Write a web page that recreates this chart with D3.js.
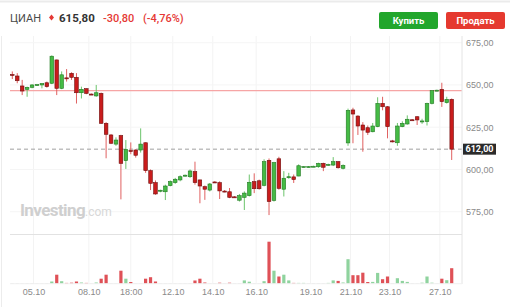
<!DOCTYPE html>
<html>
<head>
<meta charset="utf-8">
<script src="https://cdn.jsdelivr.net/npm/d3@7/dist/d3.min.js"></script>
<style>
  body { margin: 0; background: #fff; }
  svg { display: block; font-family: Roboto, "Liberation Sans", Arial, sans-serif; }
</style>
</head>
<body>
<div class="canvas"></div>
<script>
const w = 510;
const h = 307;

// candle data (ЦИАН, 4h-ish candles)
const opens = [656.2,655.3,649.4,647.4,648.6,650,650,651.3,651,664.8,648,654.2,656.9,654.5,645.4,647.8,644.6,643.5,645,627.3,
  620.4,615,620,605.2,611.2,611.5,611.5,615.8,599.3,592.2,587.3,586.8,590.4,592.2,593.8,596.2,595.7,598.7,593.8,589.8,
  587.8,592.6,592.2,587.2,586.8,583.8,581.8,583.5,584.5,592.8,593.3,590.6,605.4,581.7,606.3,588.3,595.3,595.6,596.1,601.5,
  601.5,601.7,601.6,603.6,602.6,602.6,604.6,600.7,615.7,635.2,631.6,626.3,624.7,622.3,625.3,639.1,637.1,616.9,615.8,625.3,
  626.9,629.4,631.2,628.4,628.3,639.1,646.7,647.4,639.5,641.5];
const highs = [658,657,653,649,650.5,650.6,651,652,667.5,665,658,659.4,657.5,657,649,648,645,650,645.5,628,
  621,619,620.5,617.4,616,612,624.3,616,600,593.5,588,591,593.5,595,596.5,597,600,604.6,594,590.5,
  592,593,593,587.8,589,584.2,585.5,587,597,597.7,594,606,606.5,604.5,607.5,599,598,597,603,602,
  602,602.2,604,604,603.4,607.3,605,603,636,636.5,632,628,626,627.5,642.7,643,637.5,617.5,627.5,628.5,
  632,629.8,631.5,630,639.5,647,647.2,651.3,643,642];
const lows = [653.5,651,644,643,648,649.6,648,648.4,650.5,644,647.5,652,653,639,642,644.5,644.2,643,627,606.6,
  615,614,582.3,600.3,609,607,610,598,587.8,585,586.5,581.9,590,591.5,593,595.8,595,591,580,582,
  587,592,582.5,586.5,583,583.2,581,576,584,586,588,590,573,581,588,584,594.5,592,596,601.2,
  601.2,601.4,601,599,602.2,602,600.5,600,614,615.5,620.4,610.5,620.4,622,625,635,618.4,616,614,625,
  626.5,629,626.3,627,626,638.5,646.3,637,639,605.6];
const closes = [655.8,652.5,646.4,648.6,650,650.2,650.8,649,667,648,656,653.9,654.5,645.4,647.4,645,644.4,645.4,627.3,620.8,
  615.5,617.4,603.6,611.9,610.8,608.4,615,599.3,591.8,585.5,587.7,590.2,592.8,594.2,595.7,596.6,599.1,592.2,590.2,588.3,
  591.4,592.3,587.3,587,583.5,583.5,584.5,586,592.4,588.6,588.6,604.6,581,604,588.8,594.8,595.7,594,602.2,601.7,
  601.7,601.9,603.6,601.3,603,604.6,601,602.4,635,632.8,625.7,623.3,622,625.7,639.1,637.1,625.3,616.7,625.7,627.3,
  629.7,629.2,629.3,628.7,639.1,646.6,646.9,640.1,641.5,612];
const volumes = [0.5,0.5,0.4,0.5,0.5,0.4,0.4,0.5,2.2,9,2.5,0.8,1,2.2,1.2,0.8,0.4,1.2,5,9,
  0.4,0.4,13,5,1.7,0.4,0.4,5,6.5,2.2,0.4,0.4,0.4,0.4,0.4,0.4,0.5,3.2,5,1.2,
  0.4,0.4,1,0.4,1,0.4,0.5,3.3,2,0.5,0.4,2.5,42,13,7.2,9,3.3,0.8,0.8,0.8,
  0.5,0.6,0.6,0.5,0.8,3.3,2.8,1.2,24.5,8.5,8.5,11,1.7,1.8,10.8,4.5,7.2,0.5,5.5,2.8,
  1.8,0.5,0.4,1,7.2,1,0.4,5,3.5,15.5];

const priceTicks = [575, 600, 625, 650, 675];
const dateLabels = ["05.10", "08.10", "18:00", "12.10", "14.10", "16.10", "19.10", "21.10", "23.10", "27.10"];
const datePos = [4.3, 15.5, 24.0, 32.5, 40.6, 49.4, 60.4, 68.5, 76.4, 86.6];

const prevClose = 646.6;
const lastPrice = 612;

const candles = opens.map((o, i) => ({ i, o, h: highs[i], l: lows[i], c: closes[i], v: volumes[i] }));

const svg = d3.select(".canvas").append("svg").attr("width", w).attr("height", h);

const plotLeft = 10;
const plotRight = 462;

// scales
const x = d3.scaleLinear().domain([0, candles.length - 1]).range([12.3, 451.7]);
const y = d3.scaleLinear().domain([575, 675]).range([211.7, 42.7]);
const yVol = d3.scaleLinear().domain([0, 44]).range([283.7, 239.7]);

const fmt = (v) => d3.format(".2f")(v).replace(".", ",");

// frame
svg.append("line").attr("x1", 0).attr("x2", w).attr("y1", 1.5).attr("y2", 1.5)
  .attr("stroke", "#ebebeb").attr("stroke-width", 2);
svg.append("line").attr("x1", 1.5).attr("x2", 1.5).attr("y1", 36).attr("y2", h)
  .attr("stroke", "#ececec").attr("stroke-width", 1);

// header
const head = svg.append("text").attr("x", 10).attr("y", 22).style("font-size", "11px");
head.append("tspan").attr("fill", "#4a4a4a").text("ЦИАН");
svg.append("path").attr("d", "M51.5,14.5 L54,17.5 L51.5,20.5 L49,17.5 Z").attr("fill", "#e53935");
svg.append("text").attr("x", 59).attr("y", 22).style("font-size", "11.5px").style("font-weight", "bold")
  .attr("fill", "#333").text("615,80");
svg.append("text").attr("x", 103).attr("y", 22).style("font-size", "11px").style("font-weight", "500")
  .attr("fill", "#e53935").text("-30,80");
svg.append("text").attr("x", 143).attr("y", 22).style("font-size", "11px").style("font-weight", "500")
  .attr("fill", "#e53935").text("(-4,76%)");

// buttons
const buttons = [
  { label: "Купить", x: 379, color: "#22a62c" },
  { label: "Продать", x: 446, color: "#e5392f" }
];
buttons.forEach((b) => {
  svg.append("rect").attr("x", b.x).attr("y", 12).attr("width", 59).attr("height", 17).attr("rx", 2)
    .attr("fill", b.color);
  svg.append("text").attr("x", b.x + 29.5).attr("y", 23.8).attr("text-anchor", "middle")
    .style("font-size", "9.5px").style("font-weight", "bold").attr("fill", "#fff").text(b.label);
});

// grid
const graph = svg.append("g");
graph.selectAll(".vgrid").data(datePos).enter().append("line")
  .attr("x1", (d) => x(d)).attr("x2", (d) => x(d)).attr("y1", 36).attr("y2", 284)
  .attr("stroke", "#f3f3f3");
graph.selectAll(".hgrid").data(priceTicks).enter().append("line")
  .attr("x1", plotLeft).attr("x2", plotRight).attr("y1", (d) => y(d)).attr("y2", (d) => y(d))
  .attr("stroke", "#f5f5f5");

// right edge of plot
svg.append("line").attr("x1", plotRight).attr("x2", plotRight).attr("y1", 36).attr("y2", 284)
  .attr("stroke", "#e4e4e4");

// watermark
const wm = svg.append("text").attr("x", 20).attr("y", 216).attr("fill", "#cfcfcf");
wm.append("tspan").style("font-size", "17px").style("font-weight", "bold").style("letter-spacing", "-0.6px").text("Investing");
wm.append("tspan").style("font-size", "12px").attr("fill", "#d8d8d8").text(".com");

// previous close line
graph.append("line").attr("x1", plotLeft).attr("x2", plotRight)
  .attr("y1", y(prevClose)).attr("y2", y(prevClose))
  .attr("stroke", "#f6a5a5").attr("stroke-width", 1.2);

// last price dashed line
graph.append("line").attr("x1", plotLeft).attr("x2", plotRight)
  .attr("y1", y(lastPrice)).attr("y2", y(lastPrice))
  .attr("stroke", "#a0a0a0").attr("stroke-dasharray", "4,3");

// candles
const up = (d) => d.c >= d.o;
const cg = graph.selectAll(".candle").data(candles).enter().append("g").attr("class", "candle");
cg.append("line")
  .attr("x1", (d) => x(d.i)).attr("x2", (d) => x(d.i))
  .attr("y1", (d) => y(d.h)).attr("y2", (d) => y(d.l))
  .attr("stroke", (d) => (up(d) ? "#6cc46c" : "#e06060"));
cg.append("rect")
  .attr("x", (d) => x(d.i) - 1.8)
  .attr("y", (d) => y(Math.max(d.o, d.c)))
  .attr("width", 3.6)
  .attr("height", (d) => Math.max(1, Math.abs(y(d.o) - y(d.c))))
  .attr("fill", (d) => (up(d) ? "#45bb45" : "#c91c1c"))
  .attr("stroke", (d) => (up(d) ? "#237a23" : "#6e0f0f"))
  .attr("stroke-width", 0.6);

// price axis
const yAxis = d3.axisRight(y).tickValues(priceTicks).tickSize(0).tickPadding(4).tickFormat(fmt);
const ya = svg.append("g").attr("transform", `translate(${plotRight}, 0)`).call(yAxis);
ya.select(".domain").remove();
ya.selectAll("text").attr("fill", "#8a8a8a").style("font-size", "9px").attr("x", 4);

// last price label
svg.append("rect").attr("x", 463).attr("y", y(lastPrice) - 5.5).attr("width", 33).attr("height", 11)
  .attr("fill", "#2b2b2b");
svg.append("text").attr("x", 479.5).attr("y", y(lastPrice) + 3.2).attr("text-anchor", "middle")
  .style("font-size", "9px").style("font-weight", "bold").attr("fill", "#fff").text(fmt(lastPrice));

// volume panel
svg.append("line").attr("x1", plotLeft).attr("x2", plotRight).attr("y1", 234.5).attr("y2", 234.5)
  .attr("stroke", "#e2e2e2");
svg.append("line").attr("x1", plotLeft).attr("x2", plotRight).attr("y1", yVol(0)).attr("y2", yVol(0))
  .attr("stroke", "#f0f0f0");

graph.selectAll(".vol").data(candles).enter().append("rect")
  .attr("x", (d) => x(d.i) - 1.6)
  .attr("y", (d) => yVol(d.v))
  .attr("width", 3.2)
  .attr("height", (d) => yVol(0) - yVol(d.v))
  .attr("fill", (d) => (d.v < 0.7 ? "#d6d6d6" : up(d) ? "#8fd39e" : "#df5157"));

// date axis
const xAxis = d3.axisBottom(x).tickValues(datePos).tickSize(0).tickPadding(0)
  .tickFormat((d, i) => dateLabels[i]);
const xa = svg.append("g").attr("transform", "translate(0, 289)").call(xAxis);
xa.select(".domain").remove();
xa.selectAll("text").attr("fill", "#8a8a8a").style("font-size", "9px");
</script>
</body>
</html>
